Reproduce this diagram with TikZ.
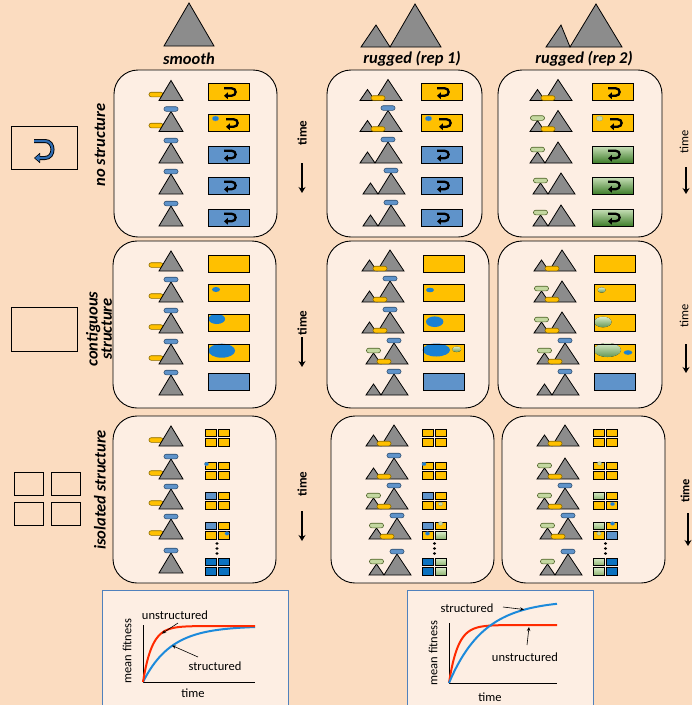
\documentclass[tikz,border=0pt]{standalone}
\usepackage{fontspec}
\setmainfont{Carlito}
\usetikzlibrary{arrows.meta}

\definecolor{bgpeach}{HTML}{FBDCC0}
\definecolor{panelfill}{HTML}{FDEEE3}
\definecolor{hillgray}{HTML}{8C8C8C}
\definecolor{popyellow}{HTML}{FFC000}
\definecolor{yellowrim}{HTML}{8A6A00}
\definecolor{popblue}{HTML}{5F93CA}
\definecolor{bluerim}{HTML}{2F4F70}
\definecolor{popdark}{HTML}{0B72C0}
\definecolor{popgreen}{HTML}{C4D8A0}
\definecolor{greenrim}{HTML}{4F6228}
\definecolor{greenlight}{HTML}{D8EBC8}
\definecolor{greendark}{HTML}{3E7D2A}
\definecolor{blobblue}{HTML}{1A80D2}
\definecolor{redline}{HTML}{FF2A00}
\definecolor{blueline}{HTML}{1C8ADB}
\definecolor{frameblue}{HTML}{4F81BD}
\definecolor{iconblue}{HTML}{2E6DB4}

\tikzset{
  panel/.style={draw=black, line width=0.9pt, fill=panelfill, rounded corners=24pt},
  hill/.style={draw=black, line width=0.8pt, fill=hillgray},
  yellowpop/.style={draw=yellowrim, fill=popyellow, line width=0.6pt, rounded corners=2.2pt},
  bluepop/.style={draw=bluerim, fill=popblue, line width=0.6pt, rounded corners=2.2pt},
  greenpop/.style={draw=greenrim, fill=popgreen, line width=0.6pt, rounded corners=2.2pt},
  yellowbox/.style={draw=black, fill=popyellow, line width=0.9pt},
  bluebox/.style={draw=black, fill=popblue, line width=0.9pt},
  darkbox/.style={draw=black, fill=popdark, line width=0.9pt},
  greenbox/.style={draw=black, line width=0.9pt, top color=greenlight!90!greendark,
    middle color=greenlight, bottom color=greendark},
  greencell/.style={draw=black, line width=0.9pt, top color=greenlight, bottom color=popgreen!60!greendark},
  rim/.style={draw=black, line width=0.9pt},
  bluespot/.style={fill=blobblue, draw=bluerim!60, line width=0.3pt},
  greenspot/.style={fill=popgreen, draw=greenrim!60, line width=0.3pt},
  blueblob/.style={fill=blobblue},
  greenblob/.style={top color=greenlight, bottom color=greendark!80},
  uturn/.style={line width=2.3pt, -{Triangle[length=3.8pt,width=6.5pt]}},
  header/.style={font=\fontsize{16.5}{18}\selectfont\bfseries\itshape},
  rowlabel/.style={font=\fontsize{16.5}{13}\selectfont\bfseries\itshape, rotate=90, align=center},
  timelabel/.style={font=\fontsize{13}{14}\selectfont\bfseries, rotate=90},
  timearrow/.style={line width=1.6pt, -{Stealth[length=6pt,width=7pt]}},
  graphframe/.style={draw=frameblue, line width=1pt, fill=panelfill},
  graphtext/.style={font=\fontsize{12.5}{13}\selectfont},
  pointer/.style={line width=0.6pt, -{Stealth[length=4pt,width=3.5pt]}},
}

% capsule = one population, centred at (x,y)
\newcommand{\pop}[3]{\draw[#1] (#2-7,#3-2.3) rectangle (#2+7,#3+2.3);}
% single peak, apex x and base y
\newcommand{\smoothhill}[2]{\draw[hill] (#1-12,#2) -- (#1,#2-20) -- (#1+12,#2) -- cycle;}
% two peaks, valley x and base y
\newcommand{\ruggedhill}[2]{\draw[hill] (#1-15,#2) -- (#1-7.5,#2-11) -- (#1,#2) -- (#1+13,#2-21) -- (#1+27,#2) -- cycle;}
% one flask
\newcommand{\popbox}[3]{\draw[#1] (#2-20.5,#3-8.5) rectangle (#2+20.5,#3+8.5);}
\newcommand{\boxrim}[2]{\draw[rim] (#1-20.5,#2-8.5) rectangle (#1+20.5,#2+8.5);}
% mixing arrow
\newcommand{\uturnat}[2]{\draw[uturn] (#1-6,#2-3.8) -- (#1+1.5,#2-3.8) .. controls (#1+7,#2-3.8) and (#1+7,#2+3.8) .. (#1+1.5,#2+3.8) -- (#1-6,#2+3.8);}
% four isolated wells: TL, TR, BL, BR
\newcommand{\popgrid}[6]{%
  \draw[#3] (#1-12,#2-8.5) rectangle (#1-1,#2-1);
  \draw[#4] (#1+1,#2-8.5) rectangle (#1+12,#2-1);
  \draw[#5] (#1-12,#2+1) rectangle (#1-1,#2+8.5);
  \draw[#6] (#1+1,#2+1) rectangle (#1+12,#2+8.5);}
\newcommand{\spot}[3]{\draw[#1] (#2,#3) ellipse (2.2 and 1.8);}
\newcommand{\welldots}[1]{\foreach \d in {543.5,548.5,553.5} \fill (#1,\d) ellipse (1.7 and 1.4);}

\begin{document}
\begin{tikzpicture}[x=1pt,y=-1pt]
\fill[bgpeach] (0,0) rectangle (692,705);
\useasboundingbox (0,0) rectangle (692,705);

% landscapes on top
\draw[hill] (164,46) -- (189,3) -- (214,46) -- cycle;
\draw[hill] (361,47) -- (376,25) -- (390,47) -- (415,4) -- (441,47) -- cycle;
\draw[hill] (546,47) -- (561,25) -- (570,47) -- (596,4) -- (622,47) -- cycle;
\node[header] (smoothlbl) at (189,59) {smooth};
\node[header] (rugAlbl) at (412,59) {rugged (rep 1)};
\node[header] (rugBlbl) at (584,59) {rugged (rep 2)};

% panels
\draw[panel] (114,70) rectangle (277,237);
\draw[panel] (327,70) rectangle (482,237);
\draw[panel] (498,70) rectangle (662,237);
\draw[panel] (113,241) rectangle (276,408);
\draw[panel] (327,241) rectangle (489,408);
\draw[panel] (498,241) rectangle (662,408);
\draw[panel] (113,416) rectangle (276,583);
\draw[panel] (331,416) rectangle (494,583);
\draw[panel] (502,416) rectangle (665,583);

% ---- no structure, smooth
\pop{yellowpop}{156}{94.5} \smoothhill{171}{100.5}
\popbox{yellowbox}{229}{92} \uturnat{230}{92}
\pop{yellowpop}{156}{125.5} \smoothhill{171}{131.5} \pop{bluepop}{171}{109}
\popbox{yellowbox}{229}{123} \uturnat{232}{123} \draw[bluespot] (215.5,118.5) ellipse (3.3 and 2.5);
\foreach \c in {154.5,185.5,217.5} {
  \smoothhill{171}{\c+8.5} \pop{bluepop}{171}{\c-14}
  \popbox{bluebox}{229}{\c} \uturnat{230}{\c}
}
% ---- no structure, rugged 1
\ruggedhill{375}{100.5} \pop{yellowpop}{378}{98}
\popbox{yellowbox}{442}{92} \uturnat{443}{92}
\ruggedhill{375}{131.5} \pop{yellowpop}{378}{129} \pop{bluepop}{388}{108}
\popbox{yellowbox}{442}{123} \uturnat{445}{123} \draw[bluespot] (428.5,118.5) ellipse (3.3 and 2.5);
\foreach \v/\c in {375/154.5,378/185.5,378/217.5} {
  \ruggedhill{\v}{\c+8.5} \pop{bluepop}{\v+13}{\c-15}
  \popbox{bluebox}{442}{\c} \uturnat{443}{\c}
}
% ---- no structure, rugged 2
\ruggedhill{545}{100.5} \pop{yellowpop}{548}{98}
\popbox{yellowbox}{613}{92} \uturnat{614}{92}
\ruggedhill{545}{131.5} \pop{greenpop}{537.5}{118} \pop{yellowpop}{548}{129}
\popbox{yellowbox}{613}{123} \uturnat{616}{123} \draw[greenspot] (599.5,118.5) ellipse (3.3 and 2.5);
\foreach \v/\c in {545/154.5,548/185.5,548/217.5} {
  \ruggedhill{\v}{\c+8.5} \pop{greenpop}{\v-7.5}{\c-5}
  \popbox{greenbox}{613}{\c} \uturnat{614}{\c}
}

% ---- contiguous, smooth
\pop{yellowpop}{156}{265} \smoothhill{171}{271}
\popbox{yellowbox}{229}{263.5}
\pop{yellowpop}{156}{296} \smoothhill{171}{302} \pop{bluepop}{171}{279.5}
\popbox{yellowbox}{229}{292.5} \fill[blueblob] (216,289.5) ellipse (4 and 2.5);
\pop{yellowpop}{156}{327} \smoothhill{171}{333} \pop{bluepop}{171}{310.5}
\popbox{yellowbox}{229}{322.5} \fill[blueblob] (216.8,319) ellipse (8.3 and 5); \boxrim{229}{322.5}
\pop{yellowpop}{156}{358} \smoothhill{171}{364} \pop{bluepop}{171}{341.5}
\popbox{yellowbox}{229}{352.5} \fill[blueblob] (221.8,350.7) ellipse (13.3 and 7); \boxrim{229}{352.5}
\smoothhill{171}{395} \pop{bluepop}{171}{372.5}
\popbox{bluebox}{229}{381.5}
% ---- contiguous, rugged 1
\ruggedhill{377}{271} \pop{yellowpop}{380}{268.5}
\popbox{yellowbox}{443.5}{263.5}
\ruggedhill{377}{302} \pop{yellowpop}{380}{299.5} \pop{bluepop}{390}{278.5}
\popbox{yellowbox}{443.5}{292.5} \fill[blueblob] (430,290) ellipse (4 and 2.3);
\ruggedhill{377}{333} \pop{yellowpop}{380}{330.5} \pop{bluepop}{390}{309.5}
\popbox{yellowbox}{443.5}{322.5} \fill[blueblob] (434.7,321.7) ellipse (8.7 and 5.3);
\ruggedhill{381}{364} \pop{greenpop}{373.5}{350.5} \pop{yellowpop}{384}{361.5} \pop{bluepop}{394}{340.5}
\popbox{yellowbox}{443.5}{352.5} \fill[blueblob] (436.3,350) ellipse (13.7 and 6.5);
\fill[greenblob] (456.7,349.3) ellipse (4.5 and 2.8); \boxrim{443.5}{352.5}
\ruggedhill{381}{395} \pop{bluepop}{394}{371.5}
\popbox{bluebox}{443.5}{381.5}
% ---- contiguous, rugged 2
\ruggedhill{549}{271} \pop{yellowpop}{552}{268.5}
\popbox{yellowbox}{615}{263.5}
\ruggedhill{549}{302} \pop{greenpop}{541.5}{288.5} \pop{yellowpop}{552}{299.5}
\popbox{yellowbox}{615}{292.5} \fill[greenblob] (601.7,290) ellipse (4 and 2.7);
\ruggedhill{549}{333} \pop{greenpop}{541.5}{319.5} \pop{yellowpop}{552}{330.5}
\popbox{yellowbox}{615}{322.5} \fill[greenblob] (603,322) ellipse (8.5 and 5.3); \boxrim{615}{322.5}
\ruggedhill{552}{364} \pop{greenpop}{544.5}{350.5} \pop{yellowpop}{555}{361.5} \pop{bluepop}{565}{340.5}
\popbox{yellowbox}{615}{352.5} \fill[greenblob] (607.5,350) ellipse (13.5 and 7);
\fill[blueblob] (628,352.5) ellipse (4.3 and 2.3); \boxrim{615}{352.5}
\ruggedhill{552}{395} \pop{bluepop}{565}{371.5}
\popbox{bluebox}{615}{381.5}

% ---- isolated, smooth
\pop{yellowpop}{156}{440} \smoothhill{171}{446}
\popgrid{217}{437.5}{yellowbox}{yellowbox}{yellowbox}{yellowbox}
\pop{yellowpop}{156}{473} \smoothhill{171}{479} \pop{bluepop}{171}{456.5}
\popgrid{217}{470.5}{yellowbox}{yellowbox}{yellowbox}{yellowbox} \spot{bluespot}{206.5}{464}
\pop{yellowpop}{156}{503} \smoothhill{171}{509} \pop{bluepop}{171}{486.5}
\popgrid{217}{500.5}{bluebox}{yellowbox}{yellowbox}{yellowbox}
\pop{yellowpop}{156}{533} \smoothhill{171}{539} \pop{bluepop}{171}{516.5}
\popgrid{217}{530.5}{bluebox}{yellowbox}{yellowbox}{yellowbox} \spot{bluespot}{227}{533.5}
\welldots{217}
\smoothhill{171}{573} \pop{bluepop}{171}{550.5}
\popgrid{217}{566.5}{darkbox}{darkbox}{darkbox}{darkbox}
% ---- isolated, rugged 1
\ruggedhill{381}{446} \pop{yellowpop}{384}{443.5}
\popgrid{434.5}{437.5}{yellowbox}{yellowbox}{yellowbox}{yellowbox}
\ruggedhill{381}{479} \pop{yellowpop}{384}{476.5} \pop{bluepop}{394}{455.5}
\popgrid{434.5}{470.5}{yellowbox}{yellowbox}{yellowbox}{yellowbox} \spot{bluespot}{424}{464}
\ruggedhill{381}{509} \pop{greenpop}{373.5}{495.5} \pop{yellowpop}{384}{506.5} \pop{bluepop}{394}{485.5}
\popgrid{434.5}{500.5}{bluebox}{yellowbox}{yellowbox}{yellowbox} \spot{greenspot}{440.5}{504}
\ruggedhill{384}{539} \pop{greenpop}{376.5}{525.5} \pop{yellowpop}{387}{536.5} \pop{bluepop}{397}{515.5}
\popgrid{434.5}{530.5}{bluebox}{yellowbox}{yellowbox}{greencell}
\spot{greenspot}{440.5}{523.5} \spot{bluespot}{427.5}{533.5}
\welldots{434.5}
\ruggedhill{384}{575} \pop{greenpop}{376.5}{561.5} \pop{bluepop}{397}{551.5}
\popgrid{434.5}{566.5}{darkbox}{greencell}{darkbox}{greencell}
% ---- isolated, rugged 2
\ruggedhill{552}{446} \pop{yellowpop}{555}{443.5}
\popgrid{605.5}{437.5}{yellowbox}{yellowbox}{yellowbox}{yellowbox}
\ruggedhill{552}{479} \pop{greenpop}{544.5}{465.5} \pop{yellowpop}{555}{476.5}
\popgrid{605.5}{470.5}{yellowbox}{yellowbox}{yellowbox}{yellowbox} \spot{greenspot}{599.5}{463.5}
\ruggedhill{552}{509} \pop{greenpop}{544.5}{495.5} \pop{yellowpop}{555}{506.5} \pop{bluepop}{565}{485.5}
\popgrid{605.5}{500.5}{greencell}{yellowbox}{yellowbox}{yellowbox} \spot{bluespot}{612.5}{504}
\ruggedhill{555}{539} \pop{greenpop}{547.5}{525.5} \pop{yellowpop}{558}{536.5} \pop{bluepop}{568}{515.5}
\popgrid{605.5}{530.5}{greencell}{yellowbox}{yellowbox}{bluebox}
\spot{bluespot}{612.5}{523.5} \spot{greenspot}{599}{533.5}
\welldots{605.5}
\ruggedhill{555}{575} \pop{greenpop}{547.5}{561.5} \pop{bluepop}{568}{551.5}
\popgrid{605.5}{566.5}{greencell}{darkbox}{greencell}{darkbox}

% structure icons and row labels
\draw[line width=0.9pt] (11,126) rectangle (77,169);
\draw[line width=4pt, -{Triangle[length=6pt,width=10pt]}] (34,141) -- (45,141) .. controls (55,141) and (55,158) .. (45,158) -- (34,158);
\draw[line width=2.2pt, iconblue, -{Triangle[length=4.5pt,width=7pt]}] (34,141) -- (45,141) .. controls (55,141) and (55,158) .. (45,158) -- (35,158);
\draw[line width=0.9pt] (11,307) rectangle (77,351);
\draw[line width=0.9pt] (14,472) rectangle (43,495);
\draw[line width=0.9pt] (51,472) rectangle (80,495);
\draw[line width=0.9pt] (14,502) rectangle (43,525);
\draw[line width=0.9pt] (51,502) rectangle (80,525);
\node[rowlabel] (nolbl) at (100,145) {no structure};
\node[rowlabel] (contlbl) at (99,329) {contiguous\\structure};
\node[rowlabel] (isolbl) at (100,490) {isolated structure};

% time arrows
\node[timelabel] (timeA) at (302,133) {time};
\node[timelabel] (timeB) at (302,323) {time};
\node[timelabel] (timeC) at (302,484) {time};
\node[timelabel, font=\fontsize{12.5}{13}\selectfont] (timeD) at (684,142) {time};
\node[timelabel, font=\fontsize{12.5}{13}\selectfont] (timeE) at (684,316) {time};
\node[timelabel, font=\fontsize{12.5}{13}\selectfont\bfseries] (timeF) at (685,491) {time};
\draw[timearrow] (302,163) -- (302,193);
\draw[timearrow] (302,337) -- (302,367);
\draw[timearrow] (302,511) -- (302,541);
\draw[timearrow] (686,167) -- (686,194);
\draw[timearrow] (686,344) -- (686,373);
\draw[timearrow] (688,513) -- (688,546);

% fitness curves
\draw[graphframe] (102,590) rectangle (288,712);
\draw[line width=0.8pt] (143,625) -- (143,682) -- (255,682);
\draw[blueline, line width=2pt] plot[domain=143:255, samples=80] (\x, {682-56*(1-exp(-(\x-143)/28))});
\draw[redline, line width=2pt] plot[domain=143:255, samples=80] (\x, {682-56*(1-exp(-(\x-143)/9))});
\node[graphtext] (unstrA) at (175,615) {unstructured};
\node[graphtext] (strA) at (215,666) {structured};
\node[graphtext, rotate=90] (fitA) at (127,651) {mean fitness};
\node[graphtext] (timeG) at (193,693) {time};
\coordinate (tailA) at (178,623); \coordinate (tipA) at (162,633.5);
\coordinate (tailB) at (198,657); \coordinate (tipB) at (172,645.5);
\draw[pointer] (tailA) -- (tipA);
\draw[pointer] (tailB) -- (tipB);

\draw[graphframe] (407,590) rectangle (593,712);
\draw[line width=0.8pt] (449,623) -- (449,683) -- (557,683);
\draw[redline, line width=2pt] plot[domain=449:557, samples=80] (\x, {683-58*(1-exp(-(\x-449)/9))});
\draw[blueline, line width=2pt] plot[domain=449:557, samples=80] (\x, {683-83*(1-exp(-(\x-449)/35))});
\node[graphtext] (strC) at (467,608) {structured};
\node[graphtext] (unstrC) at (525,657) {unstructured};
\node[graphtext, rotate=90] (fitC) at (433,653) {mean fitness};
\node[graphtext] (timeH) at (490,697) {time};
\coordinate (tailC) at (503,607); \coordinate (tipC) at (524,609.5);
\coordinate (tailD) at (527,645); \coordinate (tipD) at (529,627);
\draw[pointer] (tailC) -- (tipC);
\draw[pointer] (tailD) -- (tipD);
\end{tikzpicture}
\end{document}
